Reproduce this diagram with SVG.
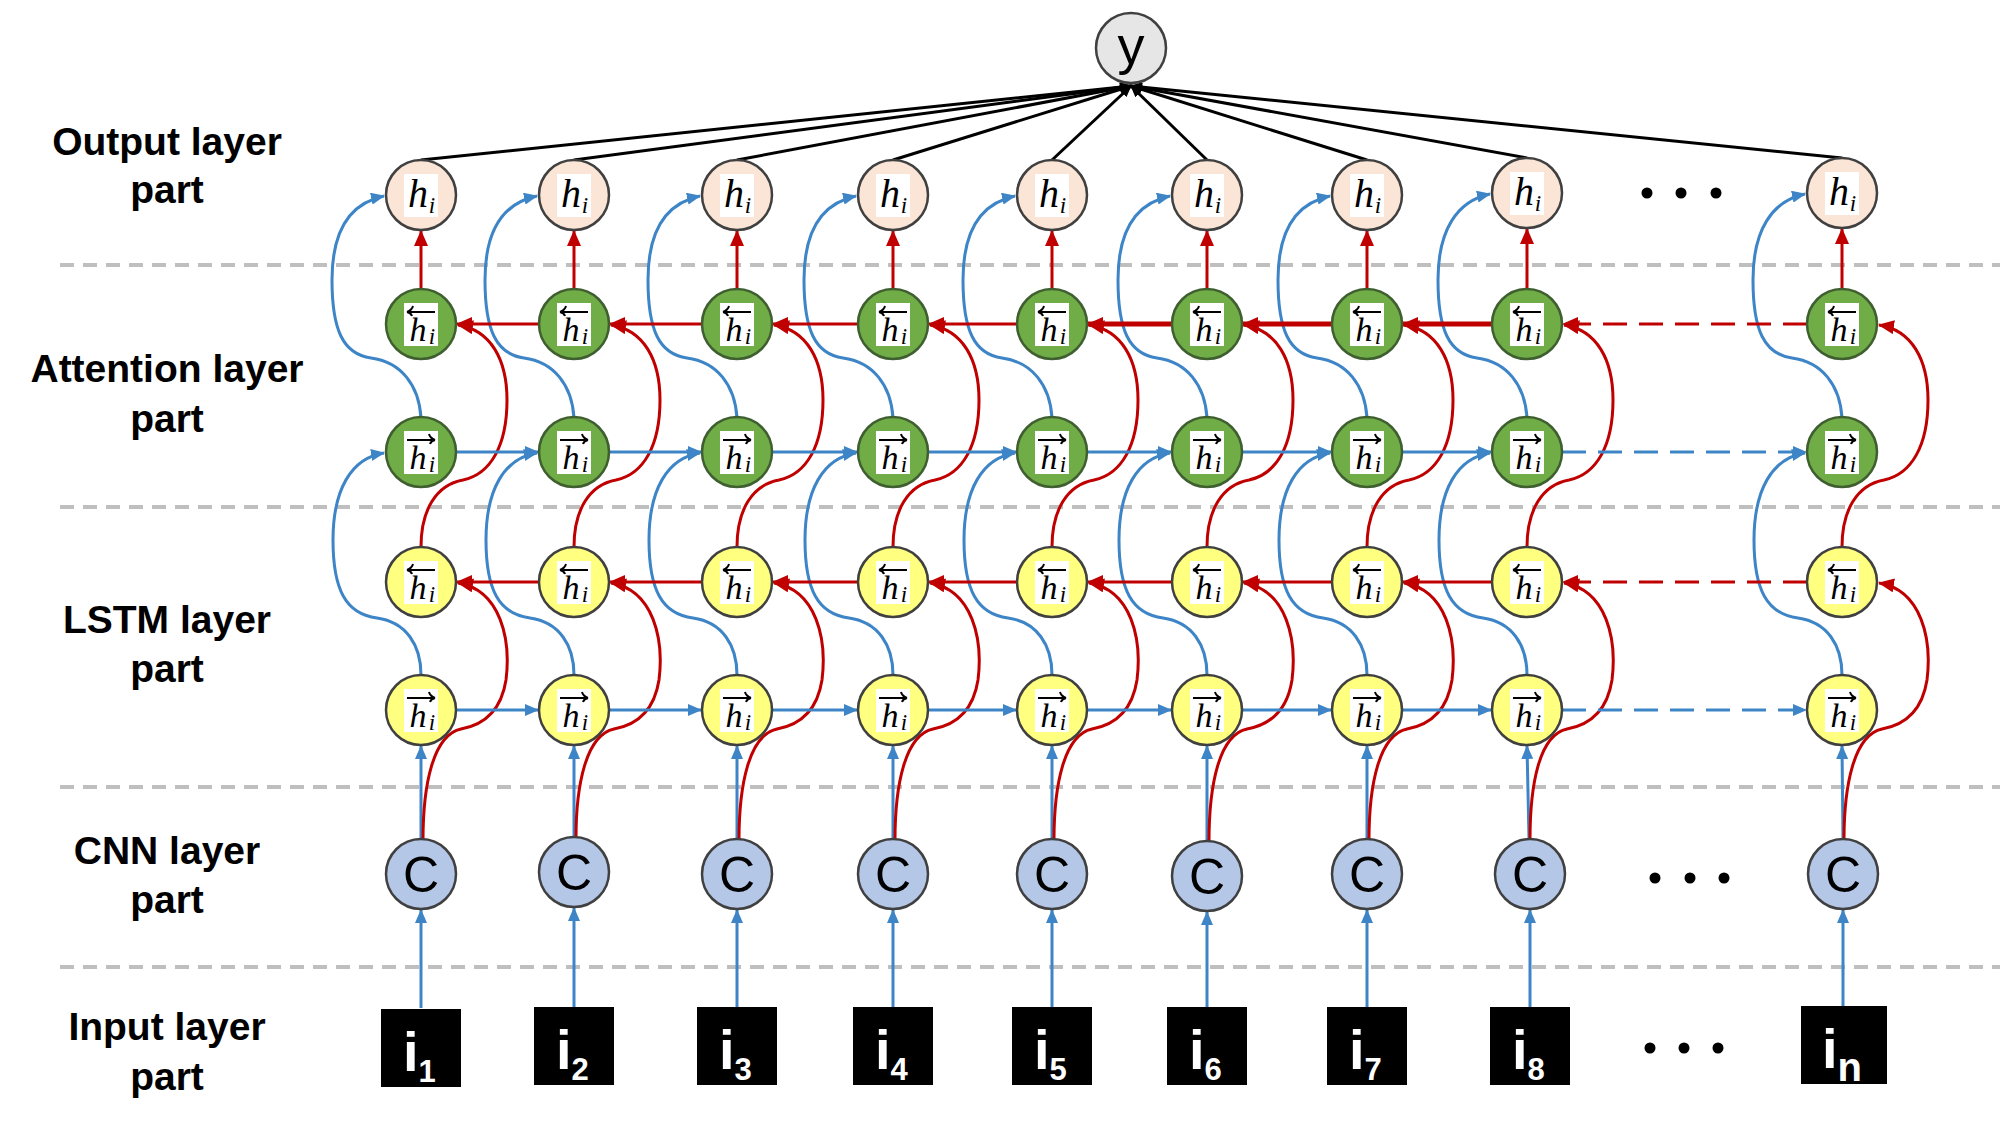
<svg xmlns="http://www.w3.org/2000/svg" width="2000" height="1132" viewBox="0 0 2000 1132">
<style>
.sep{stroke:#BFBFBF;stroke-width:4;stroke-dasharray:14 9;fill:none}
.bl{stroke:#3D85C6;stroke-width:3;fill:none}
.rd{stroke:#C00000;stroke-width:3;fill:none}
.thk{stroke-width:5}
.bk{stroke:#000;stroke-width:3;fill:none}
.dash{stroke-dasharray:24 12}
.o{fill:#FBE5D6;stroke:#404040;stroke-width:2.5}
.g{fill:#70AD47;stroke:#3F5F30;stroke-width:2.5}
.yl{fill:#FFFF80;stroke:#404040;stroke-width:2.5}
.c{fill:#B4C7E7;stroke:#404040;stroke-width:2.5}
.yn{fill:#E7E6E6;stroke:#404040;stroke-width:2.5}
.lb{fill:#fff}
.acc{stroke:#000;stroke-width:2;fill:none}
.h{font-family:"Liberation Serif",serif;font-style:italic;font-size:34px;text-anchor:middle;fill:#000}
.ho{font-family:"Liberation Serif",serif;font-style:italic;font-size:40px;text-anchor:middle;fill:#000}
.hs{font-family:"Liberation Serif",serif;font-style:italic;font-size:23px;text-anchor:middle;fill:#000}
.ct{font-family:"Liberation Sans",Arial,sans-serif;font-size:50px;text-anchor:middle;fill:#000}
.yt{font-family:"Liberation Sans",Arial,sans-serif;font-size:54px;text-anchor:middle;fill:#000}
.inp{fill:#000}
.it{font-family:"Liberation Sans",Arial,sans-serif;font-size:56px;font-weight:bold;fill:#fff}
.isub{font-size:31px}
.lab{font-family:"Liberation Sans",Arial,sans-serif;font-size:39px;font-weight:bold;text-anchor:middle;fill:#000}
.dot{fill:#000}
</style>
<defs>
<marker id="ab" markerUnits="userSpaceOnUse" viewBox="0 0 14 12" markerWidth="14" markerHeight="12" refX="13" refY="6" orient="auto"><path d="M0,0L14,6L0,12z" fill="#3D85C6"/></marker>
<marker id="ar" markerUnits="userSpaceOnUse" viewBox="0 0 16 14" markerWidth="16" markerHeight="14" refX="15" refY="7" orient="auto"><path d="M0,0L16,7L0,14z" fill="#C00000"/></marker>
<marker id="ak" markerUnits="userSpaceOnUse" viewBox="0 0 12 10" markerWidth="12" markerHeight="10" refX="11" refY="5" orient="auto"><path d="M0,0L12,5L0,10z" fill="#000"/></marker>
</defs>
<rect width="2000" height="1132" fill="#fff"/>

<g id="layer-labels">
<text class="lab" x="167" y="155">Output layer</text>
<text class="lab" x="167" y="203">part</text>
<text class="lab" x="167" y="382">Attention layer</text>
<text class="lab" x="167" y="432">part</text>
<text class="lab" x="167" y="633">LSTM layer</text>
<text class="lab" x="167" y="682">part</text>
<text class="lab" x="167" y="864">CNN layer</text>
<text class="lab" x="167" y="913">part</text>
<text class="lab" x="167" y="1040">Input layer</text>
<text class="lab" x="167" y="1090">part</text>
</g>

<g id="separators">
<line class="sep" x1="60" y1="265" x2="2000" y2="265"/>
<line class="sep" x1="60" y1="507" x2="2000" y2="507"/>
<line class="sep" x1="60" y1="787" x2="2000" y2="787"/>
<line class="sep" x1="60" y1="967" x2="2000" y2="967"/>
</g>

<g id="connectors">
<g class="bl" marker-end="url(#ab)">
<line x1="421" y1="1008" x2="421" y2="910"/>
<line x1="574" y1="1008" x2="574" y2="908"/>
<line x1="737" y1="1008" x2="737" y2="910"/>
<line x1="893" y1="1008" x2="893" y2="910"/>
<line x1="1052" y1="1008" x2="1052" y2="910"/>
<line x1="1207" y1="1008" x2="1207" y2="912"/>
<line x1="1367" y1="1008" x2="1367" y2="910"/>
<line x1="1530" y1="1008" x2="1530" y2="910"/>
<line x1="1843" y1="1006" x2="1843" y2="910"/>
</g>
<g class="bl" marker-end="url(#ab)">
<line x1="421" y1="839" x2="421" y2="746"/>
<line x1="574" y1="837" x2="574" y2="746"/>
<line x1="737" y1="839" x2="737" y2="746"/>
<line x1="893" y1="839" x2="893" y2="746"/>
<line x1="1052" y1="839" x2="1052" y2="746"/>
<line x1="1207" y1="841" x2="1207" y2="746"/>
<line x1="1367" y1="839" x2="1367" y2="746"/>
<line x1="1529" y1="839" x2="1527" y2="746"/>
<line x1="1843" y1="839" x2="1842" y2="746"/>
</g>
<g class="rd" marker-end="url(#ar)">
<path d="M423 840 C423 785 433 735 461 729 C483 725 501 712 506 680 C511 640 501 590 458 583"/>
<path d="M576 838 C576 785 586 735 614 729 C636 725 654 712 659 680 C664 640 654 590 611 583"/>
<path d="M739 840 C739 785 749 735 777 729 C799 725 817 712 822 680 C827 640 817 590 774 583"/>
<path d="M895 840 C895 785 905 735 933 729 C955 725 973 712 978 680 C983 640 973 590 930 583"/>
<path d="M1054 840 C1054 785 1064 735 1092 729 C1114 725 1132 712 1137 680 C1142 640 1132 590 1089 583"/>
<path d="M1209 842 C1209 785 1219 735 1247 729 C1269 725 1287 712 1292 680 C1297 640 1287 590 1244 583"/>
<path d="M1369 840 C1369 785 1379 735 1407 729 C1429 725 1447 712 1452 680 C1457 640 1447 590 1404 583"/>
<path d="M1530 840 C1530 785 1539 735 1567 729 C1589 725 1607 712 1612 680 C1617 640 1607 590 1564 583"/>
<path d="M1844 840 C1844 785 1854 735 1882 729 C1904 725 1922 712 1927 680 C1932 640 1922 590 1879 583"/>
</g>
<g class="bl" marker-end="url(#ab)">
<path d="M421 675 C421 645 406 622 377 618 C346 614 333 590 333 540 C333 490 351 458 384 453"/>
<path d="M574 675 C574 645 559 622 530 618 C499 614 486 590 486 540 C486 490 504 458 537 453"/>
<path d="M737 675 C737 645 722 622 693 618 C662 614 649 590 649 540 C649 490 667 458 700 453"/>
<path d="M893 675 C893 645 878 622 849 618 C818 614 805 590 805 540 C805 490 823 458 856 453"/>
<path d="M1052 675 C1052 645 1037 622 1008 618 C977 614 964 590 964 540 C964 490 982 458 1015 453"/>
<path d="M1207 675 C1207 645 1192 622 1163 618 C1132 614 1119 590 1119 540 C1119 490 1137 458 1170 453"/>
<path d="M1367 675 C1367 645 1352 622 1323 618 C1292 614 1279 590 1279 540 C1279 490 1297 458 1330 453"/>
<path d="M1527 675 C1527 645 1512 622 1483 618 C1452 614 1439 590 1439 540 C1439 490 1457 458 1490 453"/>
<path d="M1842 675 C1842 645 1827 622 1798 618 C1767 614 1754 590 1754 540 C1754 490 1772 458 1805 453"/>
</g>
<g class="rd" marker-end="url(#ar)">
<path d="M421 547 C421 510 436 485 463 480 C491 474 507 445 507 400 C507 360 491 330 458 325"/>
<path d="M574 547 C574 510 589 485 616 480 C644 474 660 445 660 400 C660 360 644 330 611 325"/>
<path d="M737 547 C737 510 752 485 779 480 C807 474 823 445 823 400 C823 360 807 330 774 325"/>
<path d="M893 547 C893 510 908 485 935 480 C963 474 979 445 979 400 C979 360 963 330 930 325"/>
<path d="M1052 547 C1052 510 1067 485 1094 480 C1122 474 1138 445 1138 400 C1138 360 1122 330 1089 325"/>
<path d="M1207 547 C1207 510 1222 485 1249 480 C1277 474 1293 445 1293 400 C1293 360 1277 330 1244 325"/>
<path d="M1367 547 C1367 510 1382 485 1409 480 C1437 474 1453 445 1453 400 C1453 360 1437 330 1404 325"/>
<path d="M1527 547 C1527 510 1542 485 1569 480 C1597 474 1613 445 1613 400 C1613 360 1597 330 1564 325"/>
<path d="M1842 547 C1842 510 1857 485 1884 480 C1912 474 1928 445 1928 400 C1928 360 1912 330 1879 325"/>
</g>
<g class="bl" marker-end="url(#ab)">
<path d="M421 418 C419 385 401 362 371 358 C343 354 332 330 332 280 C332 230 351 203 384 196"/>
<path d="M574 418 C572 385 554 362 524 358 C496 354 485 330 485 280 C485 230 504 203 537 196"/>
<path d="M737 418 C735 385 717 362 687 358 C659 354 648 330 648 280 C648 230 667 203 700 196"/>
<path d="M893 418 C891 385 873 362 843 358 C815 354 804 330 804 280 C804 230 823 203 856 196"/>
<path d="M1052 418 C1050 385 1032 362 1002 358 C974 354 963 330 963 280 C963 230 982 203 1015 196"/>
<path d="M1207 418 C1205 385 1187 362 1157 358 C1129 354 1118 330 1118 280 C1118 230 1137 203 1170 196"/>
<path d="M1367 418 C1365 385 1347 362 1317 358 C1289 354 1278 330 1278 280 C1278 230 1297 203 1330 196"/>
<path d="M1527 418 C1525 385 1507 362 1477 358 C1449 354 1438 330 1438 280 C1438 230 1457 201 1490 194"/>
<path d="M1842 418 C1840 385 1822 362 1792 358 C1764 354 1753 330 1753 280 C1753 230 1772 201 1805 194"/>
</g>
<g class="rd" marker-end="url(#ar)">
<line x1="421" y1="289" x2="421" y2="231"/>
<line x1="574" y1="289" x2="574" y2="231"/>
<line x1="737" y1="289" x2="737" y2="231"/>
<line x1="893" y1="289" x2="893" y2="231"/>
<line x1="1052" y1="289" x2="1052" y2="231"/>
<line x1="1207" y1="289" x2="1207" y2="231"/>
<line x1="1367" y1="289" x2="1367" y2="231"/>
<line x1="1527" y1="289" x2="1527" y2="229"/>
<line x1="1842" y1="289" x2="1842" y2="229"/>
</g>
<g class="bl" marker-end="url(#ab)">
<line x1="456" y1="710" x2="538" y2="710"/>
<line x1="609" y1="710" x2="701" y2="710"/>
<line x1="772" y1="710" x2="857" y2="710"/>
<line x1="928" y1="710" x2="1016" y2="710"/>
<line x1="1087" y1="710" x2="1171" y2="710"/>
<line x1="1242" y1="710" x2="1331" y2="710"/>
<line x1="1402" y1="710" x2="1491" y2="710"/>
<line class="dash" x1="1562" y1="710" x2="1806" y2="710"/>
</g>
<g class="rd" marker-end="url(#ar)">
<line x1="539" y1="582" x2="457" y2="582"/>
<line x1="702" y1="582" x2="610" y2="582"/>
<line x1="858" y1="582" x2="773" y2="582"/>
<line x1="1017" y1="582" x2="929" y2="582"/>
<line x1="1172" y1="582" x2="1088" y2="582"/>
<line x1="1332" y1="582" x2="1243" y2="582"/>
<line x1="1492" y1="582" x2="1403" y2="582"/>
<line class="dash" x1="1807" y1="582" x2="1563" y2="582"/>
</g>
<g class="bl" marker-end="url(#ab)">
<line x1="456" y1="452" x2="538" y2="452"/>
<line x1="609" y1="452" x2="701" y2="452"/>
<line x1="772" y1="452" x2="857" y2="452"/>
<line x1="928" y1="452" x2="1016" y2="452"/>
<line x1="1087" y1="452" x2="1171" y2="452"/>
<line x1="1242" y1="452" x2="1331" y2="452"/>
<line x1="1402" y1="452" x2="1491" y2="452"/>
<line class="dash" x1="1562" y1="452" x2="1806" y2="452"/>
</g>
<g class="rd" marker-end="url(#ar)">
<line x1="539" y1="324" x2="457" y2="324"/>
<line x1="702" y1="324" x2="610" y2="324"/>
<line x1="858" y1="324" x2="773" y2="324"/>
<line x1="1017" y1="324" x2="929" y2="324"/>
<line class="thk" x1="1172" y1="324" x2="1088" y2="324"/>
<line class="thk" x1="1332" y1="324" x2="1243" y2="324"/>
<line class="thk" x1="1492" y1="324" x2="1403" y2="324"/>
<line class="dash" x1="1807" y1="324" x2="1563" y2="324"/>
</g>
<g class="bk" marker-end="url(#ak)">
<line x1="421" y1="160" x2="1131" y2="86"/>
<line x1="574" y1="160" x2="1131" y2="86"/>
<line x1="737" y1="160" x2="1131" y2="86"/>
<line x1="893" y1="160" x2="1131" y2="86"/>
<line x1="1052" y1="160" x2="1131" y2="86"/>
<line x1="1207" y1="160" x2="1131" y2="86"/>
<line x1="1367" y1="160" x2="1131" y2="86"/>
<line x1="1527" y1="158" x2="1131" y2="86"/>
<line x1="1842" y1="158" x2="1131" y2="86"/>
</g>
</g>

<g id="node-y" transform="translate(1131,48)"><circle class="yn" r="35"/><text class="yt" y="16">y</text></g>

<g id="out-1" transform="translate(421,195)"><circle class="o" r="35"/><rect class="lb" x="-17" y="-21" width="34" height="43"/><text class="ho" x="-3" y="12">h</text><text class="hs" x="11" y="18">i</text></g>
<g id="out-2" transform="translate(574,195)"><circle class="o" r="35"/><rect class="lb" x="-17" y="-21" width="34" height="43"/><text class="ho" x="-3" y="12">h</text><text class="hs" x="11" y="18">i</text></g>
<g id="out-3" transform="translate(737,195)"><circle class="o" r="35"/><rect class="lb" x="-17" y="-21" width="34" height="43"/><text class="ho" x="-3" y="12">h</text><text class="hs" x="11" y="18">i</text></g>
<g id="out-4" transform="translate(893,195)"><circle class="o" r="35"/><rect class="lb" x="-17" y="-21" width="34" height="43"/><text class="ho" x="-3" y="12">h</text><text class="hs" x="11" y="18">i</text></g>
<g id="out-5" transform="translate(1052,195)"><circle class="o" r="35"/><rect class="lb" x="-17" y="-21" width="34" height="43"/><text class="ho" x="-3" y="12">h</text><text class="hs" x="11" y="18">i</text></g>
<g id="out-6" transform="translate(1207,195)"><circle class="o" r="35"/><rect class="lb" x="-17" y="-21" width="34" height="43"/><text class="ho" x="-3" y="12">h</text><text class="hs" x="11" y="18">i</text></g>
<g id="out-7" transform="translate(1367,195)"><circle class="o" r="35"/><rect class="lb" x="-17" y="-21" width="34" height="43"/><text class="ho" x="-3" y="12">h</text><text class="hs" x="11" y="18">i</text></g>
<g id="out-8" transform="translate(1527,193)"><circle class="o" r="35"/><rect class="lb" x="-17" y="-21" width="34" height="43"/><text class="ho" x="-3" y="12">h</text><text class="hs" x="11" y="18">i</text></g>
<g id="out-n" transform="translate(1842,193)"><circle class="o" r="35"/><rect class="lb" x="-17" y="-21" width="34" height="43"/><text class="ho" x="-3" y="12">h</text><text class="hs" x="11" y="18">i</text></g>
<g id="out-dots"><circle class="dot" cx="1647" cy="193" r="5.5"/><circle class="dot" cx="1681" cy="193" r="5.5"/><circle class="dot" cx="1716" cy="193" r="5.5"/></g>

<g id="att-b-1" transform="translate(421,324)"><circle class="g" r="35"/><rect class="lb" x="-17" y="-21" width="34" height="43"/><path class="acc" d="M-14-12H14M-14-12q5-2 6-6M-14-12q4 1 5 4"/><text class="h" x="-3" y="17">h</text><text class="hs" x="11" y="20">i</text></g>
<g id="att-b-2" transform="translate(574,324)"><circle class="g" r="35"/><rect class="lb" x="-17" y="-21" width="34" height="43"/><path class="acc" d="M-14-12H14M-14-12q5-2 6-6M-14-12q4 1 5 4"/><text class="h" x="-3" y="17">h</text><text class="hs" x="11" y="20">i</text></g>
<g id="att-b-3" transform="translate(737,324)"><circle class="g" r="35"/><rect class="lb" x="-17" y="-21" width="34" height="43"/><path class="acc" d="M-14-12H14M-14-12q5-2 6-6M-14-12q4 1 5 4"/><text class="h" x="-3" y="17">h</text><text class="hs" x="11" y="20">i</text></g>
<g id="att-b-4" transform="translate(893,324)"><circle class="g" r="35"/><rect class="lb" x="-17" y="-21" width="34" height="43"/><path class="acc" d="M-14-12H14M-14-12q5-2 6-6M-14-12q4 1 5 4"/><text class="h" x="-3" y="17">h</text><text class="hs" x="11" y="20">i</text></g>
<g id="att-b-5" transform="translate(1052,324)"><circle class="g" r="35"/><rect class="lb" x="-17" y="-21" width="34" height="43"/><path class="acc" d="M-14-12H14M-14-12q5-2 6-6M-14-12q4 1 5 4"/><text class="h" x="-3" y="17">h</text><text class="hs" x="11" y="20">i</text></g>
<g id="att-b-6" transform="translate(1207,324)"><circle class="g" r="35"/><rect class="lb" x="-17" y="-21" width="34" height="43"/><path class="acc" d="M-14-12H14M-14-12q5-2 6-6M-14-12q4 1 5 4"/><text class="h" x="-3" y="17">h</text><text class="hs" x="11" y="20">i</text></g>
<g id="att-b-7" transform="translate(1367,324)"><circle class="g" r="35"/><rect class="lb" x="-17" y="-21" width="34" height="43"/><path class="acc" d="M-14-12H14M-14-12q5-2 6-6M-14-12q4 1 5 4"/><text class="h" x="-3" y="17">h</text><text class="hs" x="11" y="20">i</text></g>
<g id="att-b-8" transform="translate(1527,324)"><circle class="g" r="35"/><rect class="lb" x="-17" y="-21" width="34" height="43"/><path class="acc" d="M-14-12H14M-14-12q5-2 6-6M-14-12q4 1 5 4"/><text class="h" x="-3" y="17">h</text><text class="hs" x="11" y="20">i</text></g>
<g id="att-b-n" transform="translate(1842,324)"><circle class="g" r="35"/><rect class="lb" x="-17" y="-21" width="34" height="43"/><path class="acc" d="M-14-12H14M-14-12q5-2 6-6M-14-12q4 1 5 4"/><text class="h" x="-3" y="17">h</text><text class="hs" x="11" y="20">i</text></g>

<g id="att-f-1" transform="translate(421,452)"><circle class="g" r="35"/><rect class="lb" x="-17" y="-21" width="34" height="43"/><path class="acc" d="M-14-12H14M14-12q-5-2-6-6M14-12q-4 1-5 4"/><text class="h" x="-3" y="17">h</text><text class="hs" x="11" y="20">i</text></g>
<g id="att-f-2" transform="translate(574,452)"><circle class="g" r="35"/><rect class="lb" x="-17" y="-21" width="34" height="43"/><path class="acc" d="M-14-12H14M14-12q-5-2-6-6M14-12q-4 1-5 4"/><text class="h" x="-3" y="17">h</text><text class="hs" x="11" y="20">i</text></g>
<g id="att-f-3" transform="translate(737,452)"><circle class="g" r="35"/><rect class="lb" x="-17" y="-21" width="34" height="43"/><path class="acc" d="M-14-12H14M14-12q-5-2-6-6M14-12q-4 1-5 4"/><text class="h" x="-3" y="17">h</text><text class="hs" x="11" y="20">i</text></g>
<g id="att-f-4" transform="translate(893,452)"><circle class="g" r="35"/><rect class="lb" x="-17" y="-21" width="34" height="43"/><path class="acc" d="M-14-12H14M14-12q-5-2-6-6M14-12q-4 1-5 4"/><text class="h" x="-3" y="17">h</text><text class="hs" x="11" y="20">i</text></g>
<g id="att-f-5" transform="translate(1052,452)"><circle class="g" r="35"/><rect class="lb" x="-17" y="-21" width="34" height="43"/><path class="acc" d="M-14-12H14M14-12q-5-2-6-6M14-12q-4 1-5 4"/><text class="h" x="-3" y="17">h</text><text class="hs" x="11" y="20">i</text></g>
<g id="att-f-6" transform="translate(1207,452)"><circle class="g" r="35"/><rect class="lb" x="-17" y="-21" width="34" height="43"/><path class="acc" d="M-14-12H14M14-12q-5-2-6-6M14-12q-4 1-5 4"/><text class="h" x="-3" y="17">h</text><text class="hs" x="11" y="20">i</text></g>
<g id="att-f-7" transform="translate(1367,452)"><circle class="g" r="35"/><rect class="lb" x="-17" y="-21" width="34" height="43"/><path class="acc" d="M-14-12H14M14-12q-5-2-6-6M14-12q-4 1-5 4"/><text class="h" x="-3" y="17">h</text><text class="hs" x="11" y="20">i</text></g>
<g id="att-f-8" transform="translate(1527,452)"><circle class="g" r="35"/><rect class="lb" x="-17" y="-21" width="34" height="43"/><path class="acc" d="M-14-12H14M14-12q-5-2-6-6M14-12q-4 1-5 4"/><text class="h" x="-3" y="17">h</text><text class="hs" x="11" y="20">i</text></g>
<g id="att-f-n" transform="translate(1842,452)"><circle class="g" r="35"/><rect class="lb" x="-17" y="-21" width="34" height="43"/><path class="acc" d="M-14-12H14M14-12q-5-2-6-6M14-12q-4 1-5 4"/><text class="h" x="-3" y="17">h</text><text class="hs" x="11" y="20">i</text></g>

<g id="lstm-b-1" transform="translate(421,582)"><circle class="yl" r="35"/><rect class="lb" x="-17" y="-21" width="34" height="43"/><path class="acc" d="M-14-12H14M-14-12q5-2 6-6M-14-12q4 1 5 4"/><text class="h" x="-3" y="17">h</text><text class="hs" x="11" y="20">i</text></g>
<g id="lstm-b-2" transform="translate(574,582)"><circle class="yl" r="35"/><rect class="lb" x="-17" y="-21" width="34" height="43"/><path class="acc" d="M-14-12H14M-14-12q5-2 6-6M-14-12q4 1 5 4"/><text class="h" x="-3" y="17">h</text><text class="hs" x="11" y="20">i</text></g>
<g id="lstm-b-3" transform="translate(737,582)"><circle class="yl" r="35"/><rect class="lb" x="-17" y="-21" width="34" height="43"/><path class="acc" d="M-14-12H14M-14-12q5-2 6-6M-14-12q4 1 5 4"/><text class="h" x="-3" y="17">h</text><text class="hs" x="11" y="20">i</text></g>
<g id="lstm-b-4" transform="translate(893,582)"><circle class="yl" r="35"/><rect class="lb" x="-17" y="-21" width="34" height="43"/><path class="acc" d="M-14-12H14M-14-12q5-2 6-6M-14-12q4 1 5 4"/><text class="h" x="-3" y="17">h</text><text class="hs" x="11" y="20">i</text></g>
<g id="lstm-b-5" transform="translate(1052,582)"><circle class="yl" r="35"/><rect class="lb" x="-17" y="-21" width="34" height="43"/><path class="acc" d="M-14-12H14M-14-12q5-2 6-6M-14-12q4 1 5 4"/><text class="h" x="-3" y="17">h</text><text class="hs" x="11" y="20">i</text></g>
<g id="lstm-b-6" transform="translate(1207,582)"><circle class="yl" r="35"/><rect class="lb" x="-17" y="-21" width="34" height="43"/><path class="acc" d="M-14-12H14M-14-12q5-2 6-6M-14-12q4 1 5 4"/><text class="h" x="-3" y="17">h</text><text class="hs" x="11" y="20">i</text></g>
<g id="lstm-b-7" transform="translate(1367,582)"><circle class="yl" r="35"/><rect class="lb" x="-17" y="-21" width="34" height="43"/><path class="acc" d="M-14-12H14M-14-12q5-2 6-6M-14-12q4 1 5 4"/><text class="h" x="-3" y="17">h</text><text class="hs" x="11" y="20">i</text></g>
<g id="lstm-b-8" transform="translate(1527,582)"><circle class="yl" r="35"/><rect class="lb" x="-17" y="-21" width="34" height="43"/><path class="acc" d="M-14-12H14M-14-12q5-2 6-6M-14-12q4 1 5 4"/><text class="h" x="-3" y="17">h</text><text class="hs" x="11" y="20">i</text></g>
<g id="lstm-b-n" transform="translate(1842,582)"><circle class="yl" r="35"/><rect class="lb" x="-17" y="-21" width="34" height="43"/><path class="acc" d="M-14-12H14M-14-12q5-2 6-6M-14-12q4 1 5 4"/><text class="h" x="-3" y="17">h</text><text class="hs" x="11" y="20">i</text></g>

<g id="lstm-f-1" transform="translate(421,710)"><circle class="yl" r="35"/><rect class="lb" x="-17" y="-21" width="34" height="43"/><path class="acc" d="M-14-12H14M14-12q-5-2-6-6M14-12q-4 1-5 4"/><text class="h" x="-3" y="17">h</text><text class="hs" x="11" y="20">i</text></g>
<g id="lstm-f-2" transform="translate(574,710)"><circle class="yl" r="35"/><rect class="lb" x="-17" y="-21" width="34" height="43"/><path class="acc" d="M-14-12H14M14-12q-5-2-6-6M14-12q-4 1-5 4"/><text class="h" x="-3" y="17">h</text><text class="hs" x="11" y="20">i</text></g>
<g id="lstm-f-3" transform="translate(737,710)"><circle class="yl" r="35"/><rect class="lb" x="-17" y="-21" width="34" height="43"/><path class="acc" d="M-14-12H14M14-12q-5-2-6-6M14-12q-4 1-5 4"/><text class="h" x="-3" y="17">h</text><text class="hs" x="11" y="20">i</text></g>
<g id="lstm-f-4" transform="translate(893,710)"><circle class="yl" r="35"/><rect class="lb" x="-17" y="-21" width="34" height="43"/><path class="acc" d="M-14-12H14M14-12q-5-2-6-6M14-12q-4 1-5 4"/><text class="h" x="-3" y="17">h</text><text class="hs" x="11" y="20">i</text></g>
<g id="lstm-f-5" transform="translate(1052,710)"><circle class="yl" r="35"/><rect class="lb" x="-17" y="-21" width="34" height="43"/><path class="acc" d="M-14-12H14M14-12q-5-2-6-6M14-12q-4 1-5 4"/><text class="h" x="-3" y="17">h</text><text class="hs" x="11" y="20">i</text></g>
<g id="lstm-f-6" transform="translate(1207,710)"><circle class="yl" r="35"/><rect class="lb" x="-17" y="-21" width="34" height="43"/><path class="acc" d="M-14-12H14M14-12q-5-2-6-6M14-12q-4 1-5 4"/><text class="h" x="-3" y="17">h</text><text class="hs" x="11" y="20">i</text></g>
<g id="lstm-f-7" transform="translate(1367,710)"><circle class="yl" r="35"/><rect class="lb" x="-17" y="-21" width="34" height="43"/><path class="acc" d="M-14-12H14M14-12q-5-2-6-6M14-12q-4 1-5 4"/><text class="h" x="-3" y="17">h</text><text class="hs" x="11" y="20">i</text></g>
<g id="lstm-f-8" transform="translate(1527,710)"><circle class="yl" r="35"/><rect class="lb" x="-17" y="-21" width="34" height="43"/><path class="acc" d="M-14-12H14M14-12q-5-2-6-6M14-12q-4 1-5 4"/><text class="h" x="-3" y="17">h</text><text class="hs" x="11" y="20">i</text></g>
<g id="lstm-f-n" transform="translate(1842,710)"><circle class="yl" r="35"/><rect class="lb" x="-17" y="-21" width="34" height="43"/><path class="acc" d="M-14-12H14M14-12q-5-2-6-6M14-12q-4 1-5 4"/><text class="h" x="-3" y="17">h</text><text class="hs" x="11" y="20">i</text></g>

<g id="cnn-1" transform="translate(421,874)"><circle class="c" r="35"/><text class="ct" y="18">C</text></g>
<g id="cnn-2" transform="translate(574,872)"><circle class="c" r="35"/><text class="ct" y="18">C</text></g>
<g id="cnn-3" transform="translate(737,874)"><circle class="c" r="35"/><text class="ct" y="18">C</text></g>
<g id="cnn-4" transform="translate(893,874)"><circle class="c" r="35"/><text class="ct" y="18">C</text></g>
<g id="cnn-5" transform="translate(1052,874)"><circle class="c" r="35"/><text class="ct" y="18">C</text></g>
<g id="cnn-6" transform="translate(1207,876)"><circle class="c" r="35"/><text class="ct" y="18">C</text></g>
<g id="cnn-7" transform="translate(1367,874)"><circle class="c" r="35"/><text class="ct" y="18">C</text></g>
<g id="cnn-8" transform="translate(1530,874)"><circle class="c" r="35"/><text class="ct" y="18">C</text></g>
<g id="cnn-n" transform="translate(1843,874)"><circle class="c" r="35"/><text class="ct" y="18">C</text></g>
<g id="cnn-dots"><circle class="dot" cx="1655" cy="878" r="5.5"/><circle class="dot" cx="1690" cy="878" r="5.5"/><circle class="dot" cx="1724" cy="878" r="5.5"/></g>

<g id="in-1" transform="translate(421,1048)"><rect class="inp" x="-40" y="-39" width="80" height="78"/><text class="it" x="-18" y="23">i<tspan class="isub" dy="11">1</tspan></text></g>
<g id="in-2" transform="translate(574,1046)"><rect class="inp" x="-40" y="-39" width="80" height="78"/><text class="it" x="-18" y="23">i<tspan class="isub" dy="11">2</tspan></text></g>
<g id="in-3" transform="translate(737,1046)"><rect class="inp" x="-40" y="-39" width="80" height="78"/><text class="it" x="-18" y="23">i<tspan class="isub" dy="11">3</tspan></text></g>
<g id="in-4" transform="translate(893,1046)"><rect class="inp" x="-40" y="-39" width="80" height="78"/><text class="it" x="-18" y="23">i<tspan class="isub" dy="11">4</tspan></text></g>
<g id="in-5" transform="translate(1052,1046)"><rect class="inp" x="-40" y="-39" width="80" height="78"/><text class="it" x="-18" y="23">i<tspan class="isub" dy="11">5</tspan></text></g>
<g id="in-6" transform="translate(1207,1046)"><rect class="inp" x="-40" y="-39" width="80" height="78"/><text class="it" x="-18" y="23">i<tspan class="isub" dy="11">6</tspan></text></g>
<g id="in-7" transform="translate(1367,1046)"><rect class="inp" x="-40" y="-39" width="80" height="78"/><text class="it" x="-18" y="23">i<tspan class="isub" dy="11">7</tspan></text></g>
<g id="in-8" transform="translate(1530,1046)"><rect class="inp" x="-40" y="-39" width="80" height="78"/><text class="it" x="-18" y="23">i<tspan class="isub" dy="11">8</tspan></text></g>
<g id="in-n" transform="translate(1844,1045)"><rect class="inp" x="-43" y="-39" width="86" height="78"/><text class="it" x="-22" y="23">i<tspan class="isub" style="font-size:40px" dy="13">n</tspan></text></g>
<g id="in-dots"><circle class="dot" cx="1650" cy="1048" r="5.5"/><circle class="dot" cx="1684" cy="1048" r="5.5"/><circle class="dot" cx="1718" cy="1048" r="5.5"/></g>
</svg>
